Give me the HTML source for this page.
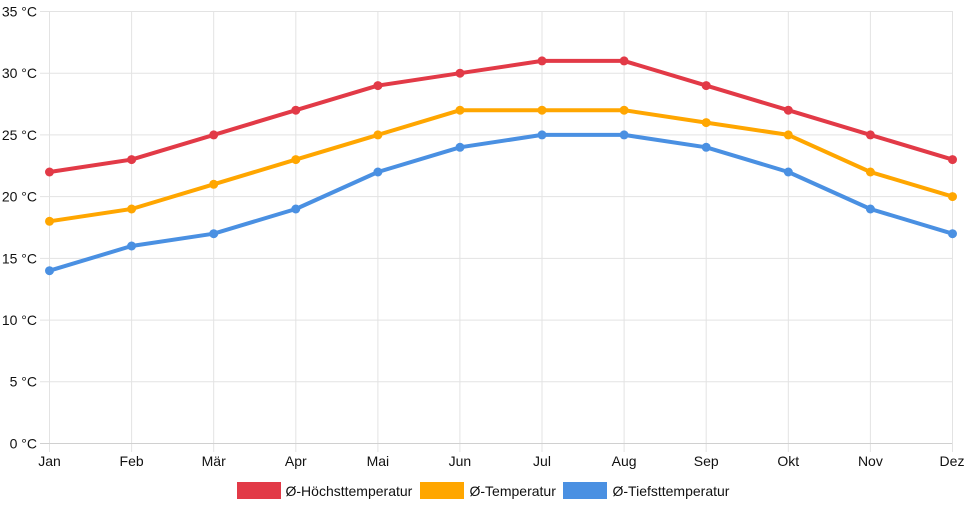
<!DOCTYPE html>
<html><head><meta charset="utf-8"><style>
html,body{margin:0;padding:0;background:#fff;}
svg{display:block;font-family:"Liberation Sans",Arial,sans-serif;}
</style></head><body>
<svg width="968" height="508" viewBox="0 0 968 508" xmlns="http://www.w3.org/2000/svg">
<g stroke="#e3e3e3" stroke-width="1">
<line x1="40" y1="11.5" x2="952" y2="11.5"/>
<line x1="40" y1="73.2" x2="952" y2="73.2"/>
<line x1="40" y1="134.9" x2="952" y2="134.9"/>
<line x1="40" y1="196.6" x2="952" y2="196.6"/>
<line x1="40" y1="258.4" x2="952" y2="258.4"/>
<line x1="40" y1="320.1" x2="952" y2="320.1"/>
<line x1="40" y1="381.8" x2="952" y2="381.8"/>
<line x1="49.5" y1="11" x2="49.5" y2="452"/>
<line x1="131.6" y1="11" x2="131.6" y2="452"/>
<line x1="213.7" y1="11" x2="213.7" y2="452"/>
<line x1="295.8" y1="11" x2="295.8" y2="452"/>
<line x1="377.9" y1="11" x2="377.9" y2="452"/>
<line x1="459.9" y1="11" x2="459.9" y2="452"/>
<line x1="542" y1="11" x2="542" y2="452"/>
<line x1="624.1" y1="11" x2="624.1" y2="452"/>
<line x1="706.2" y1="11" x2="706.2" y2="452"/>
<line x1="788.3" y1="11" x2="788.3" y2="452"/>
<line x1="870.4" y1="11" x2="870.4" y2="452"/>
<line x1="952.5" y1="11" x2="952.5" y2="452"/>
</g>
<line x1="40" y1="443.5" x2="952" y2="443.5" stroke="#d0d0d0" stroke-width="1"/>
<g font-size="14" fill="#111" text-anchor="end">
<text x="37" y="16.5">35 °C</text>
<text x="37" y="78">30 °C</text>
<text x="37" y="140">25 °C</text>
<text x="37" y="201.5">20 °C</text>
<text x="37" y="263.5">15 °C</text>
<text x="37" y="325">10 °C</text>
<text x="37" y="386.5">5 °C</text>
<text x="37" y="448.5">0 °C</text>
</g>
<g font-size="14" fill="#111" text-anchor="middle">
<text x="49.5" y="466">Jan</text>
<text x="131.6" y="466">Feb</text>
<text x="213.7" y="466">Mär</text>
<text x="295.8" y="466">Apr</text>
<text x="377.9" y="466">Mai</text>
<text x="459.9" y="466">Jun</text>
<text x="542" y="466">Jul</text>
<text x="624.1" y="466">Aug</text>
<text x="706.2" y="466">Sep</text>
<text x="788.3" y="466">Okt</text>
<text x="870.4" y="466">Nov</text>
<text x="952" y="466">Dez</text>
</g>
<g id="series"></g>
<g font-size="14" fill="#111">
<rect x="237" y="482" width="44" height="17" fill="#e23a47"/>
<text x="285.5" y="496">Ø-Höchsttemperatur</text>
<rect x="420" y="482" width="44" height="17" fill="#ffa600"/>
<text x="469.5" y="496">Ø-Temperatur</text>
<rect x="563" y="482" width="44" height="17" fill="#4a90e2"/>
<text x="612.5" y="496">Ø-Tiefsttemperatur</text>
</g>
<script>
(function(){
var data=[
 {c:"#e23a47",v:[22,23,25,27,29,30,31,31,29,27,25,23]},
 {c:"#ffa600",v:[18,19,21,23,25,27,27,27,26,25,22,20]},
 {c:"#4a90e2",v:[14,16,17,19,22,24,25,25,24,22,19,17]}
];
var g=document.getElementById("series"),ns="http://www.w3.org/2000/svg";
data.forEach(function(s){
 var pts=s.v.map(function(t,i){return [49.5+i*82.09,443.5-t*12.343];});
 var p=document.createElementNS(ns,"polyline");
 p.setAttribute("points",pts.map(function(q){return q[0].toFixed(1)+","+q[1].toFixed(1);}).join(" "));
 p.setAttribute("fill","none");p.setAttribute("stroke",s.c);p.setAttribute("stroke-width","4");
 p.setAttribute("stroke-linejoin","round");
 g.appendChild(p);
 pts.forEach(function(q){
  var c=document.createElementNS(ns,"circle");
  c.setAttribute("cx",q[0].toFixed(1));c.setAttribute("cy",q[1].toFixed(1));c.setAttribute("r","4.5");c.setAttribute("fill",s.c);
  g.appendChild(c);
 });
});
})();
</script>
</svg>
</body></html>
